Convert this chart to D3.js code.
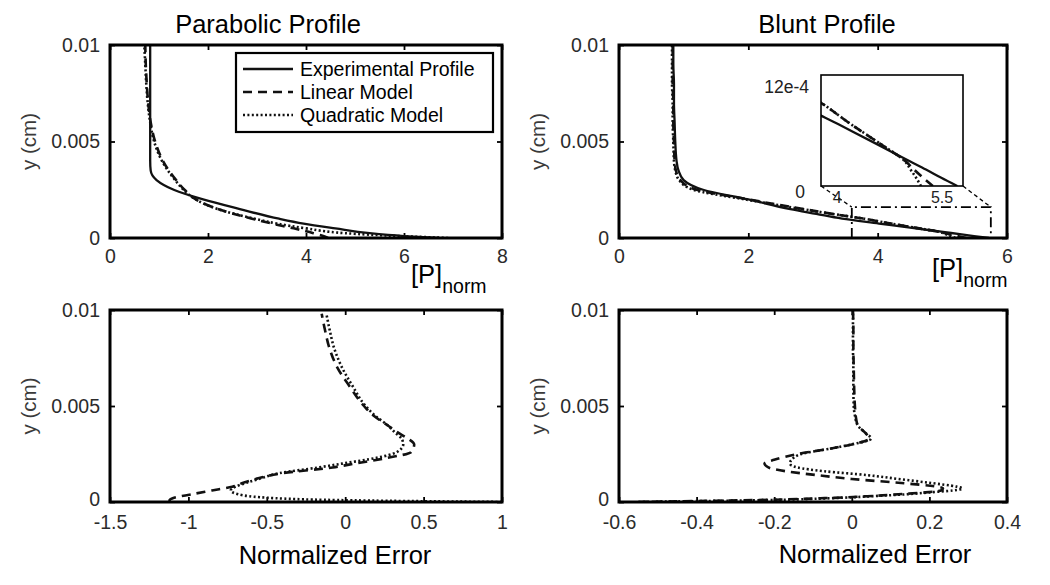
<!DOCTYPE html>
<html><head><meta charset="utf-8">
<script src="https://cdn.jsdelivr.net/npm/d3@7"></script>
<style>body{margin:0;background:#fff} text{font-family:"Liberation Sans",Arial,sans-serif}</style>
</head><body><svg id="c" width="1050" height="585"></svg>
<script>
// ---------- data ----------
const seriesNames = ["Experimental Profile", "Linear Model", "Quadratic Model"];
const panelTitles = ["Parabolic Profile", "Blunt Profile"];

// Parabolic profile (x = [P]norm as function of y)
const parY    = [0, 0.0001, 0.00025, 0.0005, 0.00075, 0.001, 0.0015, 0.002, 0.0025, 0.003, 0.0035, 0.004, 0.005, 0.006, 0.007, 0.008, 0.009, 0.01];
const parExp  = [6.7, 6.0, 5.3, 4.6, 3.95, 3.45, 2.65, 1.9, 1.3, 0.95, 0.83, 0.82, 0.82, 0.82, 0.82, 0.82, 0.82, 0.82];
const parLin  = [4.45, 4.35, 4.15, 3.75, 3.3, 2.9, 2.2, 1.75, 1.52, 1.35, 1.2, 1.08, 0.92, 0.83, 0.78, 0.75, 0.73, 0.72];
const parQuad = [6.9, 5.9, 4.8, 4.0, 3.4, 2.95, 2.2, 1.75, 1.5, 1.33, 1.18, 1.06, 0.9, 0.82, 0.77, 0.74, 0.72, 0.7];

// Blunt profile
const bluY    = [0, 0.0001, 0.0002, 0.0003, 0.0005, 0.00075, 0.001, 0.00125, 0.0015, 0.002, 0.0025, 0.003, 0.0035, 0.004, 0.005, 0.006, 0.007, 0.008, 0.009, 0.01];
const bluExp  = [5.72, 5.49, 5.27, 5.04, 4.59, 4.02, 3.45, 3.05, 2.65, 2.0, 1.3, 1.0, 0.92, 0.89, 0.87, 0.86, 0.85, 0.85, 0.84, 0.84];
const bluLin  = [5.37, 5.23, 5.1, 4.98, 4.64, 4.2, 3.79, 3.3, 2.85, 2.0, 1.2, 0.95, 0.88, 0.86, 0.85, 0.84, 0.84, 0.83, 0.83, 0.83];
const bluQuad = [5.2, 5.13, 5.05, 4.97, 4.64, 4.2, 3.79, 3.3, 2.83, 1.95, 1.15, 0.93, 0.87, 0.85, 0.84, 0.83, 0.83, 0.82, 0.82, 0.82];

// Normalized error, parabolic
const errParY    = [0, 0.00005, 0.0001, 0.0002, 0.0004, 0.0006, 0.0008, 0.001, 0.0012, 0.0015, 0.0018, 0.002, 0.0023, 0.0026, 0.003, 0.0033, 0.0036, 0.004, 0.0045, 0.005, 0.006, 0.007, 0.008, 0.009, 0.0098];
const errParLin  = [-1.12, -1.12, -1.12, -1.1, -0.98, -0.85, -0.72, -0.65, -0.57, -0.4, -0.08, 0.06, 0.27, 0.42, 0.44, 0.4, 0.34, 0.27, 0.18, 0.12, 0.03, -0.05, -0.1, -0.13, -0.15];
const errParQuad = [1.0, 0.4, -0.05, -0.45, -0.68, -0.73, -0.7, -0.63, -0.55, -0.42, -0.17, -0.02, 0.2, 0.33, 0.37, 0.36, 0.32, 0.27, 0.19, 0.13, 0.05, -0.02, -0.07, -0.1, -0.12];

// Normalized error, blunt
const errBluY    = [0, 0.00005, 0.0001, 0.0002, 0.0003, 0.0004, 0.0005, 0.0006, 0.0007, 0.0008, 0.001, 0.0012, 0.0014, 0.0016, 0.0018, 0.002, 0.0022, 0.0025, 0.0028, 0.003, 0.0033, 0.0036, 0.004, 0.0045, 0.005, 0.006, 0.007, 0.008, 0.009, 0.01];
const errBluLin  = [-0.55, -0.4, -0.25, -0.07, 0.04, 0.12, 0.19, 0.23, 0.235, 0.22, 0.12, 0.0, -0.09, -0.17, -0.215, -0.225, -0.2, -0.14, -0.05, 0.0, 0.045, 0.035, 0.015, 0.01, 0.008, 0.006, 0.005, 0.004, 0.004, 0.003];
const errBluQuad = [-0.55, -0.38, -0.22, -0.05, 0.05, 0.14, 0.2, 0.26, 0.285, 0.27, 0.2, 0.12, 0.04, -0.07, -0.14, -0.16, -0.155, -0.13, -0.05, 0.0, 0.05, 0.035, 0.015, 0.008, 0.005, 0.004, 0.004, 0.003, 0.003, 0.003];

// ticks
const yTicks = [0, 0.005, 0.01];
const parXTicks = [0, 2, 4, 6, 8];
const bluXTicks = [0, 2, 4, 6];
const errParXTicks = [-1.5, -1, -0.5, 0, 0.5, 1];
const errBluXTicks = [-0.6, -0.4, -0.2, 0, 0.2, 0.4];
const insetXTicks = [4, 5.5];
const insetYTicks = [0, 12e-4];
const insetYLabels = ["0", "12e-4"];
const zoomBoxX = [3.6, 5.75];
const zoomBoxY = [0, 0.0016];
const insetXDomain = [3.77, 5.8];
const insetYDomain = [0, 0.00135];

// ---------- drawing ----------
const svg = d3.select("#c");
const styles = [
  {dash: null, w: 2.3},
  {dash: "9,6", w: 2.6},
  {dash: "2,2.4", w: 2.6}
];
const fmt = d => String(d);

function panel(box, xDom, xTicks, series, ySeries, xPad, zeroShift) {
  const x = d3.scaleLinear().domain(xDom).range([box.x0, box.x1]);
  const y = d3.scaleLinear().domain([0, 0.01]).range([box.y1, box.y0]);
  const g = svg.append("g");
  const clipId = "clip" + Math.round(box.x0) + "_" + Math.round(box.y0);
  svg.append("clipPath").attr("id", clipId).append("rect")
    .attr("x", box.x0).attr("y", box.y0).attr("width", box.x1 - box.x0).attr("height", box.y1 - box.y0);

  const ax = (sel) => { sel.select(".domain").remove(); sel.selectAll("line").attr("stroke", "#000").attr("stroke-width", 1.8);
    sel.selectAll("text").attr("fill", "#2b2b2b").style("font-size", "19.5px").style("font-family", "'Liberation Sans',Arial,sans-serif"); };
  g.append("g").attr("transform", `translate(0,${box.y1})`)
    .call(d3.axisBottom(x).tickValues(xTicks).tickFormat(fmt).tickSize(-5).tickPadding(xPad)).call(ax);
  g.append("g").attr("transform", `translate(0,${box.y0})`)
    .call(d3.axisTop(x).tickValues(xTicks).tickFormat("").tickSize(-5)).call(ax);
  const yl = g.append("g").attr("transform", `translate(${box.x0},0)`)
    .call(d3.axisLeft(y).tickValues(yTicks).tickFormat(fmt).tickSize(-5).tickPadding(10)).call(ax);
  yl.selectAll(".tick").filter(d => d === 0).select("text").attr("y", -zeroShift);
  g.append("g").attr("transform", `translate(${box.x1},0)`)
    .call(d3.axisRight(y).tickValues(yTicks).tickFormat("").tickSize(-5)).call(ax);

  const line = d3.line().x(d => x(d[0])).y(d => y(d[1])).curve(d3.curveMonotoneY);
  const lg = svg.append("g").attr("clip-path", `url(#${clipId})`);
  series.forEach((s, i) => {
    if (!s) return;
    const pts = s.map((v, k) => [v, ySeries[k]]);
    lg.append("path").attr("d", line(pts)).attr("fill", "none").attr("stroke", "#111")
      .attr("stroke-width", styles[i].w).attr("stroke-dasharray", styles[i].dash);
  });
  svg.append("rect").attr("x", box.x0).attr("y", box.y0).attr("width", box.x1 - box.x0).attr("height", box.y1 - box.y0)
    .attr("fill", "none").attr("stroke", "#000").attr("stroke-width", 3);

  // y label
  svg.append("text").attr("transform", `translate(${box.x0 - 74},${(box.y0 + box.y1) / 2}) rotate(-90)`)
    .attr("text-anchor", "middle").attr("fill", "#3a3a3a").style("font-size", "20.5px").text("y (cm)");
  return {x, y};
}

const TL = {x0: 110, x1: 502, y0: 45, y1: 238};
const TR = {x0: 619, x1: 1007, y0: 45, y1: 238};
const BL = {x0: 110, x1: 502, y0: 310, y1: 502};
const BR = {x0: 619, x1: 1007, y0: 310, y1: 502};

panel(TL, [0, 8], parXTicks, [parExp, parLin, parQuad], parY, 11, 0);
const tr = panel(TR, [0, 6], bluXTicks, [bluExp, bluLin, bluQuad], bluY, 11, 0);
panel(BL, [-1.5, 1], errParXTicks, [null, errParLin, errParQuad], errParY, 13, 3);
panel(BR, [-0.6, 0.4], errBluXTicks, [null, errBluLin, errBluQuad], errBluY, 13, 3);

// titles
svg.append("text").attr("x", 268).attr("y", 33).attr("text-anchor", "middle").style("font-size", "25.5px").attr("fill", "#000").text(panelTitles[0]);
svg.append("text").attr("x", 827).attr("y", 33).attr("text-anchor", "middle").style("font-size", "25.5px").attr("fill", "#000").text(panelTitles[1]);

// x labels
function pLabel(x0, base) {
  const t = svg.append("text").attr("x", x0).attr("y", base).attr("fill", "#000");
  t.append("tspan").style("font-size", "25.5px").text("[P]");
  t.append("tspan").attr("dy", 10).style("font-size", "19.5px").text("norm");
}
pLabel(411, 283);
pLabel(932, 277);
svg.append("text").attr("x", 335).attr("y", 564).attr("text-anchor", "middle").style("font-size", "25.5px").attr("fill", "#000").text("Normalized Error");
svg.append("text").attr("x", 875).attr("y", 563).attr("text-anchor", "middle").style("font-size", "25.5px").attr("fill", "#000").text("Normalized Error");

// legend
const leg = svg.append("g");
leg.append("rect").attr("x", 236).attr("y", 53).attr("width", 257).attr("height", 79)
  .attr("fill", "#fff").attr("stroke", "#000").attr("stroke-width", 2.2);
seriesNames.forEach((n, i) => {
  const cy = 69 + i * 23;
  leg.append("line").attr("x1", 243).attr("x2", 293).attr("y1", cy).attr("y2", cy)
    .attr("stroke", "#111").attr("stroke-width", styles[i].w).attr("stroke-dasharray", styles[i].dash);
  leg.append("text").attr("x", 300).attr("y", cy + 7).style("font-size", "19.5px").attr("fill", "#000").text(n);
});

// zoom rectangle on blunt panel
const zx0 = tr.x(zoomBoxX[0]), zx1 = tr.x(zoomBoxX[1]), zy0 = tr.y(zoomBoxY[1]), zy1 = tr.y(zoomBoxY[0]);
svg.append("path").attr("d", `M${zx0},${zy1}V${zy0}H${zx1}V${zy1}`).attr("fill", "none")
  .attr("stroke", "#000").attr("stroke-width", 1.8).attr("stroke-dasharray", "10,4,2,4");

// inset
const IB = {x0: 821, x1: 963, y0: 75, y1: 186};
const ix = d3.scaleLinear().domain(insetXDomain).range([IB.x0, IB.x1]);
const iy = d3.scaleLinear().domain(insetYDomain).range([IB.y1, IB.y0]);
svg.append("line").attr("x1", IB.x0).attr("y1", IB.y1).attr("x2", zx0).attr("y2", zy0)
  .attr("stroke", "#000").attr("stroke-width", 1.3).attr("stroke-dasharray", "4,3");
svg.append("line").attr("x1", IB.x1).attr("y1", IB.y1).attr("x2", zx1).attr("y2", zy0)
  .attr("stroke", "#000").attr("stroke-width", 1.3).attr("stroke-dasharray", "4,3");
svg.append("rect").attr("x", IB.x0).attr("y", IB.y0).attr("width", IB.x1 - IB.x0).attr("height", IB.y1 - IB.y0).attr("fill", "#fff");
svg.append("clipPath").attr("id", "iclip").append("rect")
  .attr("x", IB.x0).attr("y", IB.y0).attr("width", IB.x1 - IB.x0).attr("height", IB.y1 - IB.y0);
const iline = d3.line().x(d => ix(d[0])).y(d => iy(d[1])).curve(d3.curveMonotoneY);
const ig = svg.append("g").attr("clip-path", "url(#iclip)");
[bluExp, bluLin, bluQuad].forEach((s, i) => {
  ig.append("path").attr("d", iline(s.map((v, k) => [v, bluY[k]]))).attr("fill", "none").attr("stroke", "#111")
    .attr("stroke-width", styles[i].w).attr("stroke-dasharray", styles[i].dash);
});
svg.append("rect").attr("x", IB.x0).attr("y", IB.y0).attr("width", IB.x1 - IB.x0).attr("height", IB.y1 - IB.y0)
  .attr("fill", "none").attr("stroke", "#000").attr("stroke-width", 1.6);
insetXTicks.forEach(v => {
  svg.append("text").attr("x", ix(v)).attr("y", 203).attr("text-anchor", "middle").style("font-size", "16px").attr("fill", "#222").text(fmt(v));
});
insetYTicks.forEach((v, i) => {
  svg.append("text").attr("x", i === 0 ? 805 : 809).attr("y", iy(v) + (i === 0 ? 12 : 6)).attr("text-anchor", "end")
    .style("font-size", "17.5px").attr("fill", "#222").text(insetYLabels[i]);
});
</script></body></html>
